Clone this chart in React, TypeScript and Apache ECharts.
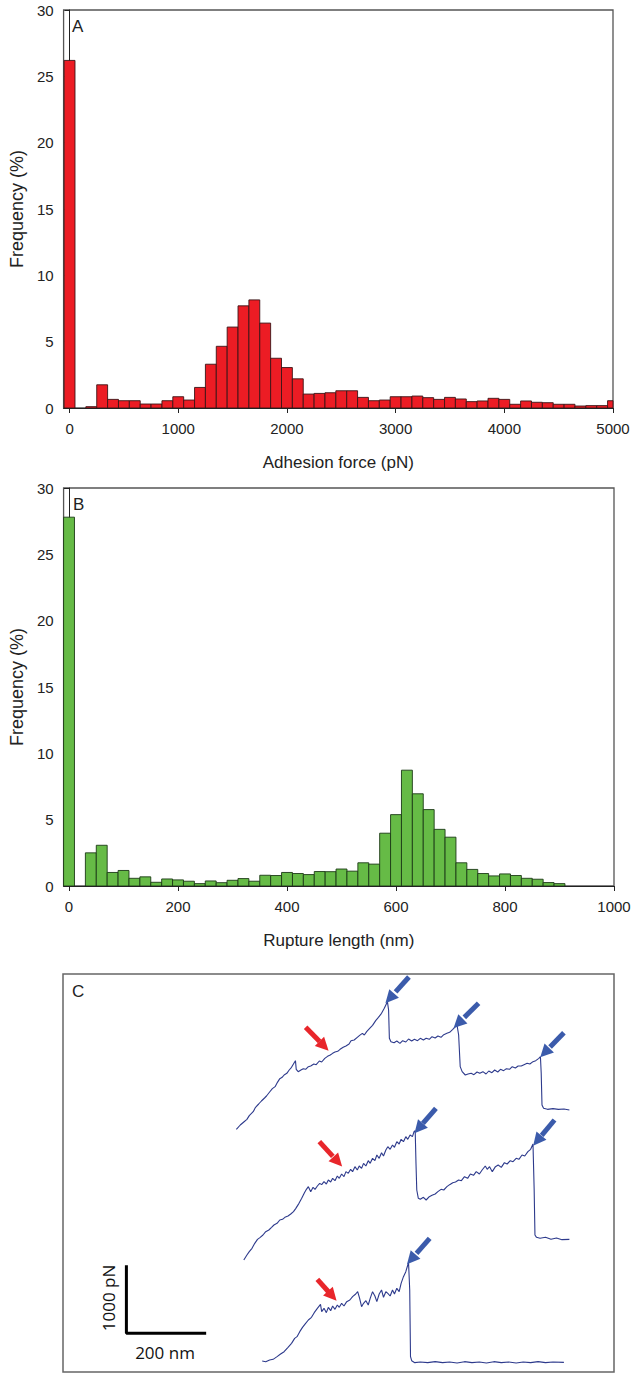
import React, { useEffect, useRef } from "react";
import * as echarts from "echarts";

// ---------- Panel A: adhesion force histogram ----------
const forceBins = [0, 100, 200, 300, 400, 500, 600, 700, 800, 900, 1000, 1100, 1200, 1300, 1400, 1500, 1600, 1700, 1800, 1900, 2000, 2100, 2200, 2300, 2400, 2500, 2600, 2700, 2800, 2900, 3000, 3100, 3200, 3300, 3400, 3500, 3600, 3700, 3800, 3900, 4000, 4100, 4200, 4300, 4400, 4500, 4600, 4700, 4800, 4900, 5000];
const forceFreq = [26.2, 0, 0.1, 1.75, 0.65, 0.55, 0.55, 0.3, 0.3, 0.55, 0.85, 0.6, 1.55, 3.3, 4.65, 6.1, 7.7, 8.15, 6.4, 3.75, 3.05, 2.2, 1.05, 1.1, 1.15, 1.3, 1.3, 0.8, 0.55, 0.6, 0.85, 0.85, 0.9, 0.78, 0.65, 0.8, 0.68, 0.48, 0.53, 0.73, 0.65, 0.28, 0.53, 0.43, 0.4, 0.28, 0.28, 0.15, 0.18, 0.18, 0.55];
const forceTicks = [0, 1000, 2000, 3000, 4000, 5000];

// ---------- Panel B: rupture length histogram ----------
const lengthBins = [0, 20, 40, 60, 80, 100, 120, 140, 160, 180, 200, 220, 240, 260, 280, 300, 320, 340, 360, 380, 400, 420, 440, 460, 480, 500, 520, 540, 560, 580, 600, 620, 640, 660, 680, 700, 720, 740, 760, 780, 800, 820, 840, 860, 880, 900];
const lengthFreq = [27.8, 0, 2.5, 3.07, 1.02, 1.17, 0.58, 0.69, 0.28, 0.53, 0.46, 0.36, 0.18, 0.38, 0.25, 0.43, 0.56, 0.36, 0.81, 0.79, 1.02, 0.94, 0.86, 1.09, 1.08, 1.28, 1.12, 1.75, 1.65, 3.98, 5.38, 8.73, 6.95, 5.76, 4.27, 3.68, 1.75, 1.25, 0.94, 0.76, 0.91, 0.79, 0.58, 0.51, 0.26, 0.18];
const lengthTicks = [0, 200, 400, 600, 800, 1000];

// ---------- Panel C: force curves (extension nm, force pN, traces offset) ----------
const trace1 = [[451,3640],[461,3705],[470,3750],[478,3790],[484,3845],[494,3905],[500,3970],[508,4020],[515,4065],[523,4110],[528,4140],[536,4200],[543,4250],[550,4280],[556,4345],[562,4400],[568,4420],[573,4455],[580,4480],[586,4530],[592,4570],[598,4630],[602,4670],[604,4540],[609,4505],[616,4530],[622,4550],[628,4540],[635,4580],[641,4590],[649,4620],[655,4610],[663,4665],[669,4650],[677,4705],[684,4735],[691,4755],[697,4780],[703,4800],[710,4810],[716,4840],[724,4870],[731,4890],[739,4920],[744,4970],[752,4980],[760,5020],[766,5050],[773,5080],[778,5055],[784,5105],[791,5150],[799,5200],[807,5270],[814,5320],[822,5380],[829,5455],[837,5555],[840,5430],[842,5005],[846,4955],[854,4940],[861,4965],[869,4930],[876,4970],[884,4950],[891,4995],[899,4965],[906,4990],[914,4970],[921,5005],[929,4980],[936,5005],[944,4990],[951,5030],[959,5010],[966,5040],[974,5020],[981,5060],[989,5080],[996,5095],[1004,5140],[1011,5180],[1015,5200],[1019,5055],[1023,4580],[1028,4505],[1036,4455],[1043,4470],[1051,4480],[1058,4460],[1066,4500],[1073,4480],[1081,4505],[1089,4470],[1096,4515],[1104,4490],[1111,4530],[1119,4500],[1126,4540],[1134,4520],[1141,4550],[1149,4540],[1156,4580],[1164,4560],[1171,4590],[1179,4590],[1186,4610],[1194,4630],[1201,4620],[1209,4655],[1216,4670],[1224,4705],[1228,4730],[1230,4480],[1232,4005],[1236,3955],[1246,3940],[1260,3950],[1274,3940],[1288,3945],[1302,3930]];
const trace2 = [[470,1680],[478,1755],[484,1805],[491,1855],[498,1930],[505,1990],[512,2020],[519,2055],[526,2105],[534,2130],[541,2170],[547,2205],[555,2230],[562,2280],[569,2290],[575,2320],[583,2340],[590,2370],[597,2405],[603,2455],[611,2530],[618,2605],[625,2690],[630,2740],[635,2780],[641,2705],[647,2770],[652,2740],[658,2790],[664,2830],[669,2810],[675,2855],[681,2820],[686,2880],[692,2850],[697,2905],[703,2870],[709,2940],[714,2905],[720,2970],[726,2930],[731,3005],[737,2980],[743,3040],[748,3005],[754,3080],[760,3030],[765,3090],[771,3055],[776,3130],[782,3090],[788,3170],[793,3130],[799,3205],[805,3170],[810,3255],[816,3205],[822,3290],[827,3240],[833,3330],[838,3380],[844,3340],[850,3405],[855,3370],[861,3455],[867,3420],[872,3490],[878,3455],[884,3530],[889,3490],[895,3555],[901,3530],[905,3605],[908,3620],[910,3130],[912,2730],[916,2605],[921,2590],[929,2620],[936,2580],[944,2630],[951,2650],[959,2670],[966,2705],[974,2740],[981,2730],[989,2780],[996,2810],[1004,2840],[1011,2850],[1019,2880],[1026,2870],[1034,2930],[1042,2905],[1049,2970],[1057,2950],[1064,3005],[1072,2970],[1079,3030],[1087,3090],[1092,3040],[1098,3080],[1105,3005],[1113,3080],[1120,3105],[1128,3070],[1136,3140],[1143,3120],[1151,3170],[1158,3155],[1166,3205],[1173,3190],[1181,3255],[1188,3240],[1196,3305],[1203,3340],[1209,3420],[1212,2730],[1214,2055],[1218,2020],[1227,2005],[1241,2020],[1255,1990],[1269,2010],[1283,1985],[1302,1990]];
const trace3 = [[517,165],[526,155],[536,180],[545,190],[555,230],[564,270],[573,305],[583,370],[592,430],[600,505],[606,530],[613,605],[620,670],[628,730],[635,780],[643,820],[650,890],[658,955],[666,1015],[669,905],[675,955],[681,890],[686,970],[692,920],[697,990],[703,940],[709,1005],[714,970],[720,1030],[726,990],[733,1055],[741,1080],[748,1130],[756,1170],[761,1205],[766,1105],[771,980],[776,1030],[782,1070],[788,1005],[793,1105],[799,1205],[805,1140],[810,1055],[816,1170],[822,1230],[827,1120],[833,1205],[838,1180],[844,1140],[850,1230],[855,1170],[861,1255],[867,1205],[872,1330],[878,1430],[884,1505],[889,1605],[891,1640],[894,1230],[896,230],[899,170],[907,140],[921,150],[940,140],[959,155],[978,140],[996,150],[1015,135],[1034,155],[1053,140],[1072,150],[1090,135],[1109,155],[1128,140],[1147,150],[1166,135],[1184,150],[1203,140],[1222,155],[1241,140],[1260,150],[1288,145]];
// arrows: [tailX, tailY, tipX, tipY]
const redArrows = [[628,5170,675,4890],[663,3455,710,3155],[658,1390,696,1140]];
const blueArrows = [[892,5925,843,5605],[1070,5530,1018,5230],[1288,5090,1239,4790],[961,3955,917,3655],[1264,3780,1220,3470],[945,2005,898,1690]];
const scaleBar = [[170,1580],[170,580],[370,580]];

const FONT = "'Liberation Sans', Arial, sans-serif";
const TXT = "#222";

function histItem(width: number, fill: string, stroke: string) {
  return (params: any, api: any) => {
    const x = api.value(0);
    const y = api.value(1);
    if (!(y > 0)) return null;
    const p0 = api.coord([x - width / 2, y]);
    const p1 = api.coord([x + width / 2, 0]);
    const cs = params.coordSys;
    const left = Math.max(p0[0], cs.x);
    const right = Math.min(p1[0], cs.x + cs.width);
    return {
      type: "rect",
      shape: { x: left, y: p0[1], width: right - left, height: p1[1] - p0[1] },
      style: { fill, stroke, lineWidth: 0.9 },
    };
  };
}

function arrowLines(list: number[][], color: string) {
  return list.map((a) => [
    { coord: [a[0], a[1]], lineStyle: { color, width: 5 } },
    { coord: [a[2], a[3]] },
  ]);
}

function xAxisHist(gridIndex: number, min: number, max: number, ticks: number[], name: string) {
  return {
    gridIndex, type: "value", min, max,
    name, nameLocation: "middle", nameGap: 46,
    nameTextStyle: { fontSize: 17, color: TXT, fontFamily: FONT },
    axisLine: { show: true, onZero: false, lineStyle: { color: TXT, width: 1 } },
    axisTick: { show: true, length: 5, customValues: ticks, lineStyle: { color: TXT } },
    axisLabel: {
      customValues: ticks, fontSize: 15, color: TXT, fontFamily: FONT, margin: 13,
      formatter: (v: number) => String(v),
    },
    splitLine: { show: false },
  };
}

function yAxisHist(gridIndex: number) {
  return {
    gridIndex, type: "value", min: 0, max: 30, interval: 5,
    name: "Frequency (%)", nameLocation: "middle", nameGap: 36,
    nameTextStyle: { fontSize: 18, color: TXT, fontFamily: FONT },
    axisLine: { show: true, lineStyle: { color: TXT, width: 1 } },
    axisTick: { show: true, length: 5, lineStyle: { color: TXT } },
    axisLabel: { fontSize: 15, color: TXT, fontFamily: FONT, margin: 10 },
    splitLine: { show: false },
  };
}

export default function App() {
  const ref = useRef<HTMLDivElement>(null);
  useEffect(() => {
    if (!ref.current) return;
    const chart = echarts.init(ref.current, undefined, { renderer: "svg" });
    const option: any = {
      animation: false,
      backgroundColor: "#fff",
      grid: [
        { left: 60, right: 23, top: 10, height: 398, show: true, borderColor: "#555", borderWidth: 1.3 },
        { left: 62, right: 22, top: 488, height: 398, show: true, borderColor: "#555", borderWidth: 1.3 },
        { left: 63, right: 22, top: 974, height: 398, show: true, borderColor: "#666", borderWidth: 1.5 },
      ],
      xAxis: [
        xAxisHist(0, -55, 5000, forceTicks, "Adhesion force (pN)"),
        xAxisHist(1, -10, 1000, lengthTicks, "Rupture length (nm)"),
        { gridIndex: 2, type: "value", min: 8, max: 1416, show: false },
      ],
      yAxis: [
        yAxisHist(0),
        yAxisHist(1),
        { gridIndex: 2, type: "value", min: 0, max: 5970, show: false },
      ],
      graphic: [
        { type: "text", left: 72, top: 18, style: { text: "A", fontSize: 17, fill: TXT, fontFamily: FONT } },
        { type: "text", left: 73, top: 496, style: { text: "B", fontSize: 17, fill: TXT, fontFamily: FONT } },
        { type: "text", left: 72, top: 983, style: { text: "C", fontSize: 17, fill: TXT, fontFamily: FONT } },
        {
          type: "text", x: 108, y: 1298, rotation: Math.PI / 2,
          style: { text: "1000 pN", fontSize: 17, fill: "#111", fontFamily: "'Open Sans', sans-serif", align: "center", verticalAlign: "middle" },
        },
        {
          type: "text", x: 165, y: 1352,
          style: { text: "200 nm", fontSize: 17, fill: "#111", fontFamily: "'Open Sans', sans-serif", align: "center", verticalAlign: "middle" },
        },
      ],
      series: [
        {
          type: "custom", xAxisIndex: 0, yAxisIndex: 0,
          renderItem: histItem(100, "#ec1c24", "#3b1416"),
          data: forceBins.map((b, i) => [b, forceFreq[i]]),
          clip: true,
        },
        {
          type: "custom", xAxisIndex: 1, yAxisIndex: 1,
          renderItem: histItem(20, "#66bb46", "#1c3a16"),
          data: lengthBins.map((b, i) => [b, lengthFreq[i]]),
          clip: true,
        },
        {
          type: "line", xAxisIndex: 2, yAxisIndex: 2, data: trace1, showSymbol: false,
          lineStyle: { color: "#2d3a8c", width: 1.1 },
          markLine: {
            silent: true, symbol: ["none", "triangle"], symbolSize: 13, label: { show: false },
            data: arrowLines(redArrows.slice(0, 1), "#e8262b").concat(arrowLines(blueArrows.slice(0, 3), "#3b5bab")),
          },
        },
        {
          type: "line", xAxisIndex: 2, yAxisIndex: 2, data: trace2, showSymbol: false,
          lineStyle: { color: "#2d3a8c", width: 1.1 },
          markLine: {
            silent: true, symbol: ["none", "triangle"], symbolSize: 13, label: { show: false },
            data: arrowLines(redArrows.slice(1, 2), "#e8262b").concat(arrowLines(blueArrows.slice(3, 5), "#3b5bab")),
          },
        },
        {
          type: "line", xAxisIndex: 2, yAxisIndex: 2, data: trace3, showSymbol: false,
          lineStyle: { color: "#2d3a8c", width: 1.1 },
          markLine: {
            silent: true, symbol: ["none", "triangle"], symbolSize: 13, label: { show: false },
            data: arrowLines(redArrows.slice(2, 3), "#e8262b").concat(arrowLines(blueArrows.slice(5, 6), "#3b5bab")),
          },
        },
        {
          type: "line", xAxisIndex: 2, yAxisIndex: 2, data: scaleBar, showSymbol: false,
          lineStyle: { color: "#000", width: 3, cap: "square" },
        },
      ],
    };
    chart.setOption(option);
    return () => chart.dispose();
  }, []);
  return (
    <div
      ref={ref}
      style={{ position: "absolute", left: 0, top: 0, width: 636, height: 1379, background: "#fff" }}
    />
  );
}
